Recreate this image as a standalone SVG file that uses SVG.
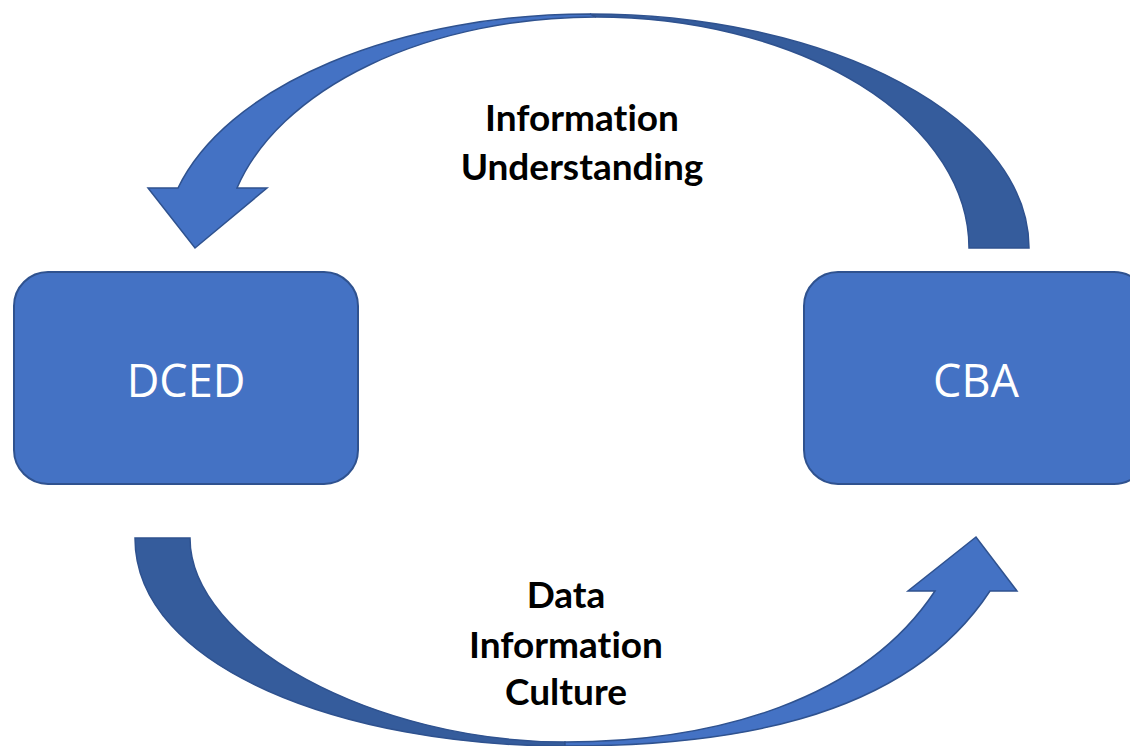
<svg xmlns="http://www.w3.org/2000/svg" width="1130" height="746" viewBox="0 0 1130 746">
  <style>
    .box { fill: #4472C4; stroke: #2F528F; stroke-width: 2; }
    .nodelabel { font-family: "Open Sans", "Liberation Sans", sans-serif; font-size: 45px; fill: #FFFFFF; text-anchor: middle; }
    .front { fill: #4472C4; stroke: #2F528F; stroke-width: 1.5; stroke-linejoin: miter; }
    .back { fill: #355C9C; stroke: #2F528F; stroke-width: 1.5; }
    .label { font-family: "Lato", "Liberation Sans", sans-serif; font-weight: bold; font-size: 37px; fill: #000000; text-anchor: middle; font-variant-ligatures: none; font-feature-settings: "liga" 0; }
  </style>
  <rect width="1130" height="746" fill="#FFFFFF"/>
  <g id="connectors">
    <g id="arrow-cba-to-dced">
      <path class="back" d="M 590,14 A 439 234 0 0 1 1029,248 L 969,248 A 373 231 0 0 0 596,17 Z"/>
      <path class="front" d="M 590,14 A 426 234 0 0 0 178,188 L 148,188 L 195,248 L 267,188 L 237,188 A 372 231 0 0 1 596,17 Z"/>
      <text class="label" x="582" y="131">Information</text>
      <text class="label" x="582" y="180">Understanding</text>
    </g>
    <g id="arrow-dced-to-cba">
      <path class="back" d="M 135,538 C 135,668 345,746 565,746 L 565,742 C 375,742 190,643 190,538 Z"/>
      <path class="front" d="M 565,746 C 715,746 902,725 990,591 L 1017,591 L 976,537 L 908,591 L 935,591 C 863,700 715,742 565,742 Z"/>
      <text class="label" x="566" y="608">Data</text>
      <text class="label" x="566" y="658">Information</text>
      <text class="label" x="566" y="705">Culture</text>
    </g>
  </g>
  <g id="node-dced">
    <rect class="box" x="14" y="272" width="344" height="212" rx="34" ry="34"/>
    <text class="nodelabel" x="186" y="397">DCED</text>
  </g>
  <g id="node-cba">
    <rect class="box" x="804" y="272" width="344" height="212" rx="34" ry="34"/>
    <text class="nodelabel" x="976" y="397">CBA</text>
  </g>
</svg>
